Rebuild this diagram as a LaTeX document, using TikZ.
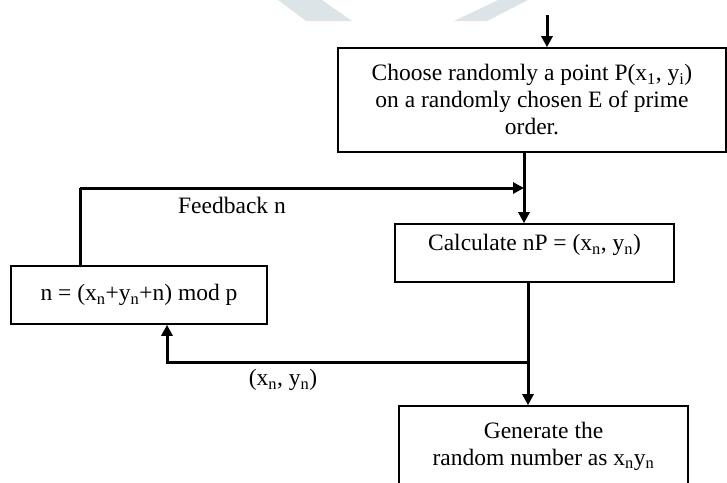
\documentclass[tikz,border=0pt]{standalone}
\usepackage{fontspec}
\setmainfont{Liberation Serif}
\usetikzlibrary{arrows.meta,calc}
\definecolor{wmark}{HTML}{DDE4E8}
\begin{document}
\begin{tikzpicture}[x=1pt,y=-1pt,
  box/.style={draw,line width=1.6pt,align=center,inner sep=0pt,
    font=\fontsize{23.5}{27}\selectfont},
  arr/.style={line width=3pt,-{Triangle[length=11pt,width=11pt]}},
  lnk/.style={line width=3pt},
  lbl/.style={font=\fontsize{23.5}{27}\selectfont}]
  \useasboundingbox (0,0) rectangle (727,482);
  \clip (0,0) rectangle (727,482);
  % faint marks at the top edge
  \fill[wmark] (278,0)--(322,0)--(352,21)--(306,21)--cycle;
  \fill[wmark] (498,0)--(528,0)--(487,21)--(454,21)--cycle;
  % boxes
  \node[box,minimum width=388pt,minimum height=104pt] (choose) at (532,100)
    {Choose randomly a point P(x\textsubscript{1}, y\textsubscript{i})\\
     on a randomly chosen E of prime\\ order.};
  \node[box,minimum width=279pt,minimum height=58pt] (calc) at (534.5,253)
    {Calculate nP = (x\textsubscript{n}, y\textsubscript{n})\\[-6pt]};
  \node[box,minimum width=256pt,minimum height=58pt] (upd) at (139,295)
    {n = (x\textsubscript{n}+y\textsubscript{n}+n) mod p};
  \node[box,minimum width=289pt,minimum height=80pt] (gen) at (543.5,446)
    {Generate the\\ random number as x\textsubscript{n}y\textsubscript{n}};
  % connectors
  \coordinate (in) at (547,15);
  \coordinate (m1) at (524,0);
  \coordinate (m2) at (528,362);
  \coordinate (fb) at (80,188);
  \coordinate (bk) at (167,362);
  \draw[arr] (in) -- (in |- choose.north);
  \draw[arr] (m1 |- choose.south) -- (m1 |- calc.north);
  \draw[arr] (m2 |- calc.south) -- (m2 |- gen.north);
  \draw[lnk] (fb |- upd.north) -- (fb);
  \draw[arr] (fb) -- (m1 |- fb);
  \draw[arr] (m2) -- (bk) -- (bk |- upd.south);
  % labels
  \node[lbl] (fblbl) at (232,205) {Feedback n};
  \node[lbl] (xylbl) at (283,380) {(x\textsubscript{n}, y\textsubscript{n})};
\end{tikzpicture}
\end{document}
